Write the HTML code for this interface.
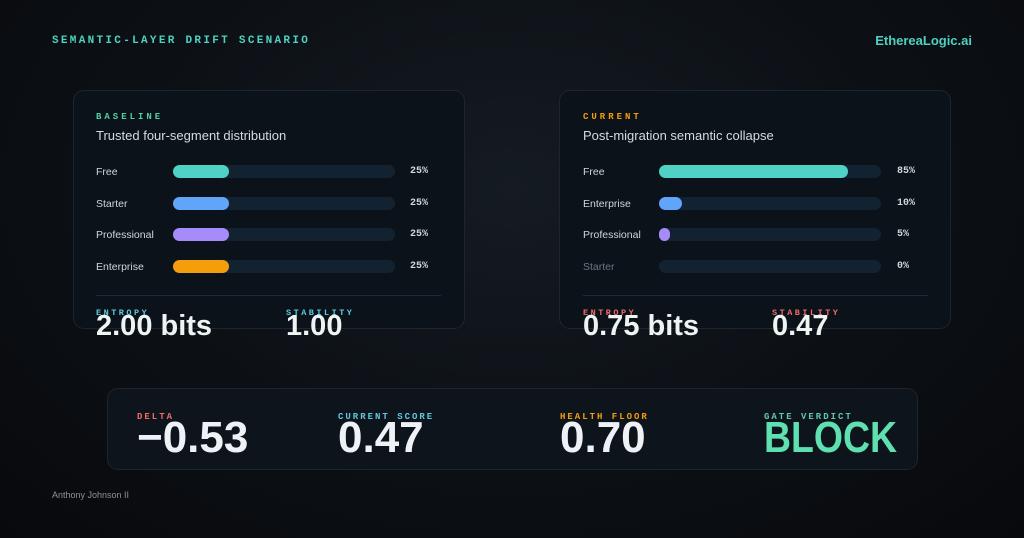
<!DOCTYPE html>
<html><head><meta charset="utf-8"><style>
*{margin:0;padding:0;box-sizing:border-box}
body{width:1024px;height:538px;overflow:hidden;background:radial-gradient(ellipse at 50% 35%,#151b22 0%,#0c1015 55%,#08090c 100%);font-family:"Liberation Sans",sans-serif;position:relative;color:#e6edf3}
.a{position:absolute;white-space:nowrap}
.mono{font-family:"Liberation Mono",monospace;font-weight:bold}
.card{position:absolute;background:#0c121a;border:1px solid #1c2630;border-radius:11px}
.lab{font-size:9px;letter-spacing:3px}
.t{font-size:13px;color:#d5dbe2}
.rl{font-size:10.5px;color:#d0d6dd}
.bar{position:absolute;height:13px;border-radius:7px;background:#132231}
.fill{position:absolute;left:0;top:0;height:13px;border-radius:7px}
.pc{font-size:10px;color:#d0d6dd}
.ml{font-size:8.5px;letter-spacing:2.5px;line-height:9px}
.mv{font-size:29px;font-weight:bold;color:#eef4f2;line-height:29px}
.bl{font-size:9px;letter-spacing:2px;line-height:9px}
.bv{font-size:44px;font-weight:bold;color:#eef2f6;line-height:40px}
</style></head><body>
<div class="a mono" style="left:52px;top:35px;font-size:11px;letter-spacing:2.3px;color:#4fd1c0">SEMANTIC-LAYER DRIFT SCENARIO</div>
<div class="a" style="right:52px;top:33px;font-size:13px;font-weight:bold;color:#4fd1c0">EthereaLogic.ai</div>

<div class="card" style="left:73px;top:90px;width:392px;height:239px"></div>
<div class="a mono lab" style="left:96px;top:112px;color:#4fd1a0">BASELINE</div>
<div class="a t" style="left:96px;top:128px">Trusted four-segment distribution</div>
<div class="a rl" style="left:96px;top:166px">Free</div>
<div class="bar" style="left:173px;top:165px;width:222px"><div class="fill" style="width:56px;background:#4fd1c5"></div></div>
<div class="a mono pc" style="left:410px;top:166px">25%</div>
<div class="a rl" style="left:96px;top:198px">Starter</div>
<div class="bar" style="left:173px;top:197px;width:222px"><div class="fill" style="width:56px;background:#60a5fa"></div></div>
<div class="a mono pc" style="left:410px;top:198px">25%</div>
<div class="a rl" style="left:96px;top:229px">Professional</div>
<div class="bar" style="left:173px;top:228px;width:222px"><div class="fill" style="width:56px;background:#a78bfa"></div></div>
<div class="a mono pc" style="left:410px;top:229px">25%</div>
<div class="a rl" style="left:96px;top:261px">Enterprise</div>
<div class="bar" style="left:173px;top:260px;width:222px"><div class="fill" style="width:56px;background:#f59e0b"></div></div>
<div class="a mono pc" style="left:410px;top:261px">25%</div>
<div class="a" style="left:96px;top:295px;width:345px;height:1px;background:#1f2a35"></div>
<div class="a mono ml" style="left:96px;top:309px;color:#5fc9de">ENTROPY</div>
<div class="a mv" style="left:96px;top:312px">2.00 bits</div>
<div class="a mono ml" style="left:286px;top:309px;color:#5fc9de">STABILITY</div>
<div class="a mv" style="left:286px;top:312px">1.00</div>

<div class="card" style="left:559px;top:90px;width:392px;height:239px"></div>
<div class="a mono lab" style="left:583px;top:112px;color:#f59e0b">CURRENT</div>
<div class="a t" style="left:583px;top:128px">Post-migration semantic collapse</div>
<div class="a rl" style="left:583px;top:166px">Free</div>
<div class="bar" style="left:659px;top:165px;width:222px"><div class="fill" style="width:189px;background:#4fd1c5"></div></div>
<div class="a mono pc" style="left:897px;top:166px">85%</div>
<div class="a rl" style="left:583px;top:198px">Enterprise</div>
<div class="bar" style="left:659px;top:197px;width:222px"><div class="fill" style="width:23px;background:#60a5fa"></div></div>
<div class="a mono pc" style="left:897px;top:198px">10%</div>
<div class="a rl" style="left:583px;top:229px">Professional</div>
<div class="bar" style="left:659px;top:228px;width:222px"><div class="fill" style="width:11px;background:#a78bfa"></div></div>
<div class="a mono pc" style="left:897px;top:229px">5%</div>
<div class="a rl" style="left:583px;top:261px;color:#6b7681">Starter</div>
<div class="bar" style="left:659px;top:260px;width:222px"></div>
<div class="a mono pc" style="left:897px;top:261px">0%</div>
<div class="a" style="left:583px;top:295px;width:345px;height:1px;background:#1f2a35"></div>
<div class="a mono ml" style="left:583px;top:309px;color:#f06b6b">ENTROPY</div>
<div class="a mv" style="left:583px;top:312px">0.75 bits</div>
<div class="a mono ml" style="left:772px;top:309px;color:#f06b6b">STABILITY</div>
<div class="a mv" style="left:772px;top:312px">0.47</div>

<div class="card" style="left:107px;top:388px;width:811px;height:82px;background:#0e141b"></div>
<div class="a mono bl" style="left:137px;top:413px;color:#f06b6b">DELTA</div>
<div class="a bv" style="left:137px;top:418px">−0.53</div>
<div class="a mono bl" style="left:338px;top:413px;color:#5fc9de">CURRENT SCORE</div>
<div class="a bv" style="left:338px;top:418px">0.47</div>
<div class="a mono bl" style="left:560px;top:413px;color:#f59e0b">HEALTH FLOOR</div>
<div class="a bv" style="left:560px;top:418px">0.70</div>
<div class="a mono bl" style="left:764px;top:413px;color:#5fc9a8">GATE VERDICT</div>
<div class="a bv" style="left:764px;top:418px;color:#5ee0b0;transform:scaleX(0.85);transform-origin:0 0">BLOCK</div>

<div class="a" style="left:52px;top:490px;font-size:9px;color:#8a939c">Anthony Johnson II</div>
</body></html>
